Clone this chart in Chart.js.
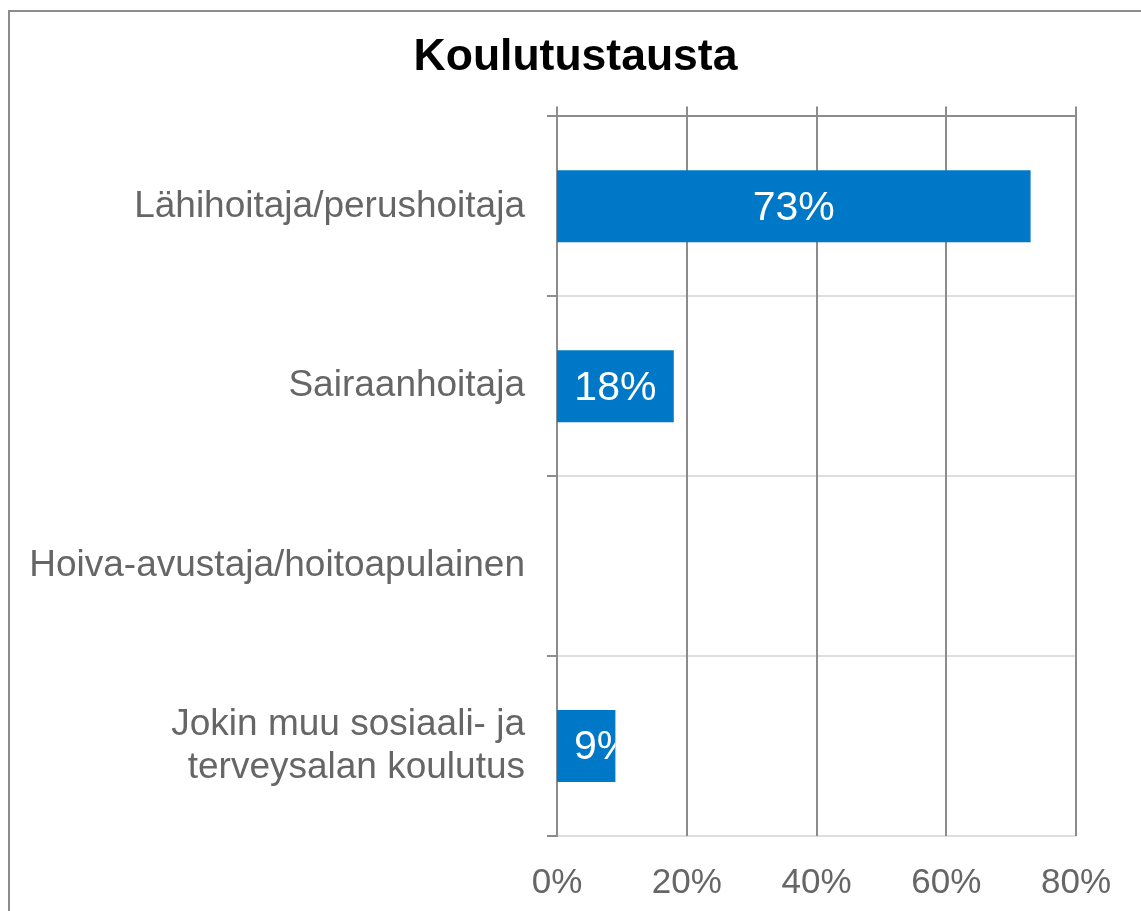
<!DOCTYPE html>
<html>
<head>
<meta charset="utf-8">
<script src="https://cdn.jsdelivr.net/npm/chart.js@4/dist/chart.umd.min.js"></script>
<style>
  html, body { margin: 0; padding: 0; background: #fff; overflow: hidden; }
  #frame { position: absolute; left: 8px; top: 10px; width: 1200px; height: 1000px; border: 2px solid #8c8c8c; box-sizing: border-box; }
  #chart { position: absolute; left: 0; top: 0; }
</style>
</head>
<body>
<div id="frame"></div>
<canvas id="chart" width="1141" height="911"></canvas>
<script>
// Data
// ----------------------------------------------
const categories = [
   'Lähihoitaja/perushoitaja',
   'Sairaanhoitaja',
   'Hoiva-avustaja/hoitoapulainen',
   ['Jokin muu sosiaali- ja', 'terveysalan koulutus']
];
const shares = [73, 18, 0, 9];
const axisMin = 0;
const axisMax = 80;
const axisStep = 20;

const barColor  = 'rgb(0, 120, 200)';
const darkLine  = '#8c8c8c';
const lightLine = '#dedede';
const textGray  = '#666666';
const fontFamily = '"Liberation Sans", Arial, sans-serif';

// Value labels inside the bars, clipped to the bar like the original
const barLabels = {
   id: 'barLabels',
   afterDatasetsDraw(chart) {
      const ctx = chart.ctx;
      const meta = chart.getDatasetMeta(0);
      ctx.save();
      ctx.font = '41px ' + fontFamily;
      ctx.fillStyle = '#ffffff';
      ctx.textBaseline = 'middle';
      meta.data.forEach((bar, i) => {
         const v = shares[i];
         if (!v) return;
         const text = v + '%';
         const w = ctx.measureText(text).width;
         const left = bar.base;
         const right = bar.x;
         const top = bar.y - bar.height / 2;
         ctx.save();
         ctx.beginPath();
         ctx.rect(left, top, right - left, bar.height);
         ctx.clip();
         if (w + 20 < right - left) {
            ctx.textAlign = 'center';
            ctx.fillText(text, (left + right) / 2, bar.y + 2);
         } else {
            ctx.textAlign = 'left';
            ctx.fillText(text, left + 17, bar.y + 2);
         }
         ctx.restore();
      });
      ctx.restore();
   }
};

const chart = new Chart(document.getElementById('chart'), {
   type: 'bar',
   data: {
      labels: categories,
      datasets: [{
         data: shares,
         backgroundColor: barColor,
         borderWidth: 0,
         barPercentage: 0.4,
         categoryPercentage: 1
      }]
   },
   plugins: [barLabels],
   options: {
      indexAxis: 'y',
      responsive: false,
      animation: false,
      layout: {
         padding: { left: 10, right: 0, top: 0, bottom: 0 }
      },
      plugins: {
         legend: { display: false },
         tooltip: { enabled: false },
         title: {
            display: true,
            text: 'Koulutustausta',
            color: '#000000',
            font: { family: fontFamily, size: 44.5, weight: 'bold', lineHeight: 1.2 },
            padding: { top: 31, bottom: 22 }
         }
      },
      scales: {
         y: {
            grid: {
               color: lightLine,
               tickColor: darkLine,
               lineWidth: 2,
               tickLength: 10,
               offset: true
            },
            border: { color: darkLine, width: 2 },
            ticks: {
               color: textGray,
               padding: 22,
               font: { family: fontFamily, size: 37, lineHeight: 1.17 }
            },
            afterFit(scale) { scale.width = 547; }
         },
         // empty right-hand axis that only reserves space, so the title centres on the whole canvas
         yRight: {
            position: 'right',
            axis: 'y',
            grid: { display: false, drawTicks: false },
            border: { display: false },
            ticks: { display: false },
            afterFit(scale) { scale.width = 65; }
         },
         x: {
            position: 'bottom',
            min: axisMin,
            max: axisMax,
            grid: { display: false, drawTicks: false },
            border: { display: false },
            ticks: {
               stepSize: axisStep,
               color: textGray,
               padding: 26,
               maxRotation: 0,
               font: { family: fontFamily, size: 35, lineHeight: 1.2 },
               callback: (v) => v + '%'
            },
            afterFit(scale) { scale.height = 75; }
         },
         x2: {
            position: 'top',
            axis: 'x',
            min: axisMin,
            max: axisMax,
            grid: {
               color: darkLine,
               lineWidth: 2,
               drawTicks: true,
               tickLength: 10
            },
            border: { color: darkLine, width: 2 },
            ticks: { display: false, stepSize: axisStep }
         }
      }
   }
});
</script>
</body>
</html>
